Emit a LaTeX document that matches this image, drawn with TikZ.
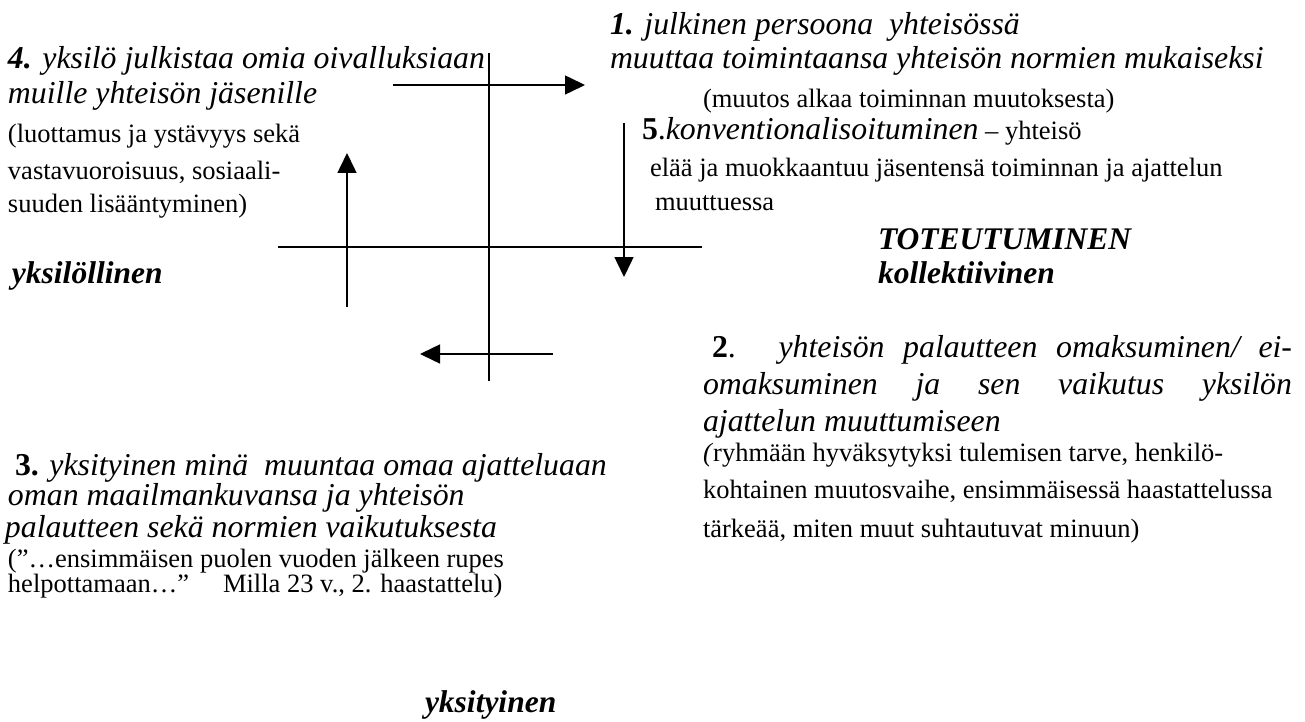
\documentclass[tikz,border=0pt]{standalone}
\usepackage{fontspec}
\setmainfont{Liberation Serif}
\usetikzlibrary{arrows.meta}

\tikzset{
  txt/.style={anchor=base west, inner sep=0pt, outer sep=0pt},
  itl/.style={txt, font=\fontsize{31.8}{35}\selectfont\itshape},
  rml/.style={txt, font=\fontsize{26.5}{30}\selectfont},
  hdl/.style={txt, font=\fontsize{31.5}{35}\selectfont\bfseries\itshape},
  axis/.style={line width=1.5pt},
  flow/.style={line width=1.5pt, -{Triangle[length=20pt,width=19pt]}}
}

\begin{document}
\begin{tikzpicture}[x=1pt,y=-1pt]
\useasboundingbox (0,0) rectangle (1305,722);

% cross of the two axes
\coordinate (vtop) at (489,53);
\coordinate (vbot) at (489,381);
\coordinate (hleft) at (278,247);
\coordinate (hright) at (702,247);
\draw[axis] (vtop) -- (vbot);
\draw[axis] (hleft) -- (hright);

% cycle arrows
\coordinate (tA) at (393,85);   \coordinate (tB) at (585,85);
\coordinate (rA) at (624,123);  \coordinate (rB) at (624,277);
\coordinate (bA) at (553,354);  \coordinate (bB) at (420,354);
\coordinate (lA) at (347,307);  \coordinate (lB) at (347,153);
\draw[flow] (tA) -- (tB);
\draw[flow] (rA) -- (rB);
\draw[flow] (bA) -- (bB);
\draw[flow] (lA) -- (lB);

% phase 4
\node[itl] (p4a) at (8,69) {{\bfseries 4.} yksilö julkistaa omia oivalluksiaan};
\node[itl] (p4b) at (8,104) {muille yhteisön jäsenille};
\node[rml] (p4c) at (8,143) {(luottamus ja ystävyys sekä};
\node[rml] (p4d) at (8,179) {vastavuoroisuus, sosiaali-};
\node[rml] (p4e) at (8,212) {suuden lisääntyminen)};

\node[hdl] (indiv) at (12,283) {yksilöllinen};

% phases 1 and 5
\node[itl] (p1a) at (610,35) {{\bfseries 1.} julkinen persoona\ \ yhteisössä};
\node[itl] (p1b) at (610,69) {muuttaa toimintaansa yhteisön normien mukaiseksi};
\node[rml] (p1c) at (703,108) {(muutos alkaa toiminnan muutoksesta)};
\node[rml] (p5a) at (642,140) {{\fontsize{31.8}{35}\selectfont\bfseries 5}{\fontsize{31.8}{35}\selectfont .}{\fontsize{31.8}{35}\selectfont\itshape konventionalisoituminen} – yhteisö};
\node[rml] (p5b) at (650,177) {elää ja muokkaantuu jäsentensä toiminnan ja ajattelun};
\node[rml] (p5c) at (655,210) {muuttuessa};

\node[hdl] (real) at (878,249) {TOTEUTUMINEN};
\node[hdl] (coll) at (878,283) {kollektiivinen};

% phase 2
\node[itl] (p2a) at (712,357) {\makebox[580pt][s]{{\upshape\bfseries 2}{\upshape .} yhteisön palautteen omaksuminen/ ei-}};
\node[itl] (p2b) at (703,394) {\makebox[589pt][s]{omaksuminen ja sen vaikutus yksilön}};
\node[itl] (p2c) at (703,431) {ajattelun muuttumiseen};
\node[rml] (p2d) at (703,461) {\textit{(}ryhmään hyväksytyksi tulemisen tarve, henkilö-};
\node[rml] (p2e) at (703,498) {kohtainen muutosvaihe, ensimmäisessä haastattelussa};
\node[rml] (p2f) at (703,537) {tärkeää, miten muut suhtautuvat minuun)};

% phase 3
\node[itl] (p3a) at (15,475) {{\upshape\bfseries 3.} yksityinen minä\ \ muuntaa omaa ajatteluaan};
\node[itl] (p3b) at (8,505) {oman maailmankuvansa ja yhteisön};
\node[itl] (p3c) at (5,537) {palautteen sekä normien vaikutuksesta};
\node[rml] (p3d) at (8,567) {(”…ensimmäisen puolen vuoden jälkeen rupes};
\node[rml] (p3e) at (8,592) {helpottamaan…”\hspace*{34pt}Milla 23 v., 2. haastattelu)};

\node[hdl] (priv) at (425,712) {yksityinen};
\end{tikzpicture}
\end{document}
